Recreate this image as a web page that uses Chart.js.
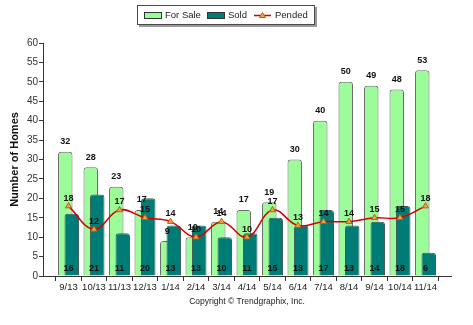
<!DOCTYPE html>
<html>
<head>
<meta charset="utf-8">
<script src="https://cdn.jsdelivr.net/npm/chart.js@4/dist/chart.umd.min.js"></script>
<style>
  html, body { margin: 0; padding: 0; background: #fff; }
  canvas { display: block; }
</style>
</head>
<body>
<canvas id="grafico" width="473" height="325"></canvas>
<script>
// Dados do gráfico
const meses = ['9/13', '10/13', '11/13', '12/13', '1/14', '2/14', '3/14', '4/14', '5/14', '6/14', '7/14', '8/14', '9/14', '10/14', '11/14'];
const paraVenda = [32, 28, 23, 17, 9, 10, 14, 17, 19, 30, 40, 50, 49, 48, 53];
const vendidos = [16, 21, 11, 20, 13, 13, 10, 11, 15, 13, 17, 13, 14, 18, 6];
const pendentes = [18, 12, 17, 15, 14, 10, 14, 10, 17, 13, 14, 14, 15, 15, 18];
const yTicks = { min: 0, max: 60, step: 5 };

// uma categoria vazia em cada ponta (o eixo tem meio intervalo de sobra)
const comBordas = arr => [null, ...arr, null];
const rotulos = ['', ...meses, ''];

const FONTE = '"Liberation Sans", Arial, sans-serif';

// Sold precisa ficar por cima de For Sale
const vendidosPorCima = {
  id: 'vendidosPorCima',
  beforeDatasetDraw(chart, args) {
    if (args.index === 1) return false;
  },
  afterDatasetDraw(chart, args) {
    if (args.index === 0) chart.getDatasetMeta(1).controller.draw();
  }
};

// Valores escritos sobre as barras e pontos
const rotulosValores = {
  id: 'rotulosValores',
  afterDatasetsDraw(chart) {
    const ctx = chart.ctx;
    const x = chart.scales.x, y = chart.scales.y;
    ctx.save();
    ctx.font = 'bold 9px ' + FONTE;
    ctx.fillStyle = '#111';
    ctx.textAlign = 'center';
    ctx.textBaseline = 'middle';
    const dsVenda = chart.data.datasets[0].data;
    const dsVend = chart.data.datasets[1].data;
    const dsPend = chart.data.datasets[2].data;
    chart.getDatasetMeta(0).data.forEach((bar, i) => {
      if (dsVenda[i] == null) return;
      ctx.fillText(dsVenda[i], bar.x, bar.y - 10);
    });
    chart.getDatasetMeta(1).data.forEach((bar, i) => {
      if (dsVend[i] == null) return;
      ctx.fillText(dsVend[i], x.getPixelForValue(i), y.getPixelForValue(0) - 7);
    });
    chart.getDatasetMeta(2).data.forEach((pt, i) => {
      if (dsPend[i] == null) return;
      ctx.fillText(dsPend[i], pt.x, pt.y - 8);
    });
    ctx.restore();
  }
};

// Legenda com moldura e copyright
const legendaCaixa = {
  id: 'legendaCaixa',
  afterDraw(chart) {
    const ctx = chart.ctx;
    const ds = chart.data.datasets;
    ctx.save();
    // sombra
    ctx.fillStyle = '#9a9a9a';
    ctx.fillRect(139, 7, 178, 20);
    ctx.fillStyle = '#fff';
    ctx.fillRect(137, 5, 178, 20);
    ctx.strokeStyle = '#4a4a4a';
    ctx.lineWidth = 1;
    ctx.strokeRect(137.5, 5.5, 177, 19);

    ctx.font = '9.5px ' + FONTE;
    ctx.fillStyle = '#222';
    ctx.textBaseline = 'middle';
    ctx.textAlign = 'left';

    ctx.fillStyle = ds[0].backgroundColor;
    ctx.fillRect(144, 12, 18, 7);
    ctx.strokeStyle = '#333';
    ctx.strokeRect(144.5, 12.5, 17, 6);
    ctx.fillStyle = '#222';
    ctx.fillText(ds[0].label, 165, 15.5);

    ctx.fillStyle = ds[1].backgroundColor;
    ctx.fillRect(207, 12, 18, 7);
    ctx.strokeStyle = '#333';
    ctx.strokeRect(207.5, 12.5, 17, 6);
    ctx.fillStyle = '#222';
    ctx.fillText(ds[1].label, 228, 15.5);

    ctx.strokeStyle = ds[2].borderColor;
    ctx.lineWidth = 1.5;
    ctx.beginPath();
    ctx.moveTo(254, 15.5);
    ctx.lineTo(271, 15.5);
    ctx.stroke();
    ctx.fillStyle = ds[2].pointBackgroundColor;
    ctx.strokeStyle = ds[2].pointBorderColor;
    ctx.lineWidth = 1;
    ctx.beginPath();
    ctx.moveTo(262.5, 12.5);
    ctx.lineTo(265.5, 17.5);
    ctx.lineTo(259.5, 17.5);
    ctx.closePath();
    ctx.fill();
    ctx.stroke();
    ctx.fillStyle = '#222';
    ctx.fillText(ds[2].label, 275, 15.5);

    ctx.font = '8.5px ' + FONTE;
    ctx.textAlign = 'center';
    ctx.fillStyle = '#222';
    ctx.fillText('Copyright \u00A9 Trendgraphix, Inc.', 247, 302);
    ctx.restore();
  }
};

const ctx = document.getElementById('grafico').getContext('2d');
new Chart(ctx, {
  data: {
    labels: rotulos,
    datasets: [
      {
        type: 'bar',
        label: 'For Sale',
        data: comBordas(paraVenda),
        backgroundColor: '#9dfc9a',
        borderColor: '#6e6e6e',
        borderWidth: 1,
        borderRadius: { topLeft: 3, topRight: 3 },
        borderSkipped: 'bottom',
        categoryPercentage: 0.51,
        barPercentage: 2.23
      },
      {
        type: 'bar',
        label: 'Sold',
        data: comBordas(vendidos),
        backgroundColor: '#007c76',
        borderColor: '#3f5f5c',
        borderWidth: 1,
        borderRadius: { topLeft: 3, topRight: 3 },
        borderSkipped: 'bottom',
        categoryPercentage: 0.51,
        barPercentage: 2.23
      },
      {
        type: 'line',
        label: 'Pended',
        order: -1,
        data: comBordas(pendentes),
        borderColor: '#d40000',
        borderWidth: 1.5,
        tension: 0.4,
        pointStyle: 'triangle',
        pointRadius: 3.5,
        pointBackgroundColor: '#f5a240',
        pointBorderColor: '#a8671c',
        pointBorderWidth: 1
      }
    ]
  },
  options: {
    responsive: false,
    animation: false,
    layout: { padding: { top: 43, left: 0, right: 22, bottom: 19 } },
    plugins: {
      legend: { display: false },
      tooltip: { enabled: false }
    },
    scales: {
      x: {
        offset: false,
        grid: { drawOnChartArea: false, tickLength: 5, color: '#333' },
        border: { color: '#333' },
        ticks: { font: { size: 9.5, family: FONTE }, color: '#222', maxRotation: 0, autoSkip: false, padding: 1 },
        afterFit: s => { s.height = 30; }
      },
      y: {
        min: yTicks.min,
        max: yTicks.max,
        ticks: { stepSize: yTicks.step, font: { size: 10, family: FONTE }, color: '#333', padding: 1 },
        grid: { drawOnChartArea: false, tickLength: 4, color: '#333' },
        border: { color: '#333' },
        title: {
          display: true,
          text: 'Number of Homes',
          font: { size: 11, weight: 'bold', family: FONTE },
          color: '#111',
          padding: { top: 8, bottom: 0 }
        },
        afterFit: s => { s.width = 43; }
      }
    }
  },
  plugins: [vendidosPorCima, rotulosValores, legendaCaixa]
});
</script>
</body>
</html>
